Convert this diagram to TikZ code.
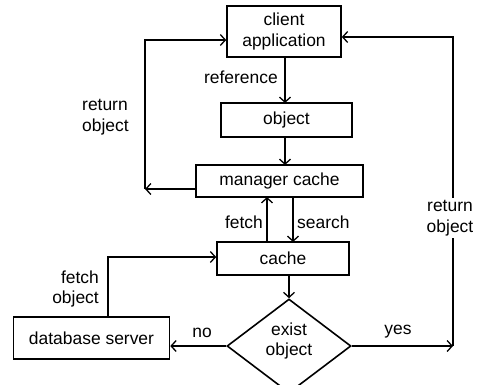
\documentclass[tikz,border=0pt]{standalone}
\usepackage{fontspec}
\setmainfont{Liberation Sans}
\usetikzlibrary{arrows.meta,shapes.geometric}
\begin{document}
\begin{tikzpicture}[x=1bp,y=-1bp,
  every node/.style={font=\fontsize{17.5}{21}\selectfont, inner sep=0pt},
  box/.style={draw, line width=1.6bp, rectangle},
  arr/.style={line width=1.6bp, -{Straight Barb[length=5bp,width=11bp,line width=1.3bp]}},
  ln/.style={line width=1.6bp},
  lbl/.style={align=left}]
\useasboundingbox (0,0) rectangle (478,384);
\clip (0,0) rectangle (478,384);
\node[box, minimum width=114bp, minimum height=51bp, align=center] (client) at (284,31.5) {client\\application};
\node[box, minimum width=131bp, minimum height=34bp] (object) at (286.5,120) {object};
\node[box, minimum width=167bp, minimum height=32bp] (manager) at (279.5,181) {manager cache};
\node[box, minimum width=132bp, minimum height=33bp] (cache) at (283,258.5) {cache};
\node[box, minimum width=156bp, minimum height=42bp] (db) at (91.5,338) {database server};
\node[draw, line width=1.6bp, diamond, minimum width=124bp, minimum height=94bp] (dec) at (289,346) {};
\node[align=center] (dectext) at (289,341) {exist\\object};
% client -> object -> manager
\draw[arr] (285,57) -- (285,103);
\node[anchor=east] (lref) at (278,77) {reference};
\draw[arr] (285,137) -- (285,165);
% return object left
\coordinate (rl) at (145,189);
\coordinate (rtop) at (145,40);
\draw[arr] (manager.west |- rl) -- (rl);
\draw[arr] (rl) -- (rtop) -- (rtop -| client.west);
\node[align=left, anchor=west] (lret) at (82,117) {return\\object};
% fetch / search
\draw[arr] (267,242) -- (267,197);
\draw[arr] (293,197) -- (293,242);
\node[anchor=east] (lfetch) at (263,222) {fetch};
\node[anchor=west] (lsearch) at (297,222) {search};
% cache -> decision
\coordinate (cd) at (289,275);
\draw[arr] (cd) -- (dec.north);
% decision -> db
\draw[arr] (dec.west) -- (dec.west -| db.east);
\node (lno) at (202,333) {no};
% db -> cache
\coordinate (fc) at (108,257);
\draw[arr] (108,317) -- (fc) -- (fc -| cache.west);
\node[align=right, anchor=east] (lfetchobj) at (99,289) {fetch\\object};
% yes -> return right
\coordinate (ry) at (453,346);
\coordinate (rtr) at (453,37);
\draw[arr] (dec.east) -- (ry);
\node (lyes) at (398,332) {yes};
\node[align=center, fill=white, inner sep=2bp] (lret2) at (450,218) {return\\object};
\draw[ln] (ry) -- (lret2.south -| ry);
\draw[arr] (lret2.north -| ry) -- (rtr) -- (rtr -| client.east);
\end{tikzpicture}
\end{document}
